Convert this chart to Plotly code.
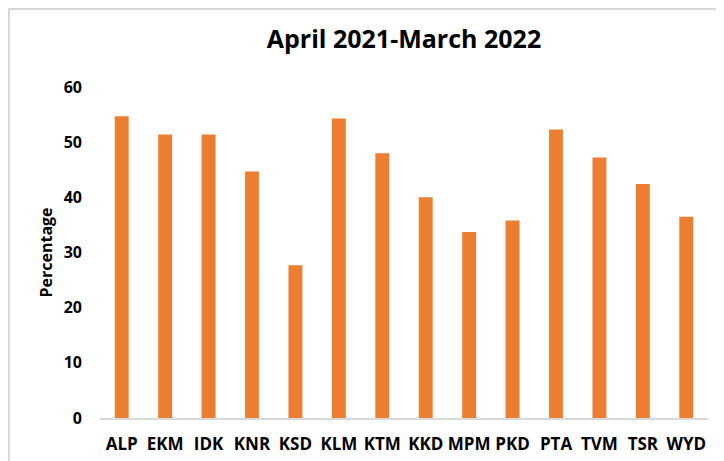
import plotly.graph_objects as go

districts = ['ALP', 'EKM', 'IDK', 'KNR', 'KSD', 'KLM', 'KTM', 'KKD', 'MPM', 'PKD', 'PTA', 'TVM', 'TSR', 'WYD']
percentage = [54.7, 51.4, 51.4, 44.7, 27.7, 54.3, 48.0, 40.0, 33.7, 35.8, 52.3, 47.2, 42.4, 36.5]
y_ticks = [0, 10, 20, 30, 40, 50, 60]

font_family = 'Open Sans, sans-serif'

# page has 8px body margin, figure sits at (8, 8) in the window
W, H = 724, 453
L, R, T, B = 92, 24, 79, 43
pw, ph = W - L - R, H - T - B

fig = go.Figure()
fig.add_trace(go.Bar(
    x=districts,
    y=percentage,
    marker=dict(color='#ED7D31', line=dict(width=0)),
    showlegend=False
))

fig.update_layout(
    width=W,
    height=H,
    margin=dict(l=L, r=R, t=T, b=B, autoexpand=False),
    plot_bgcolor='white',
    paper_bgcolor='white',
    bargap=0.68,
    title=dict(
        text='<b>April 2021-March 2022</b>',
        x=0.5, xref='paper', xanchor='center',
        y=1 - 31 / H, yanchor='middle',
        font=dict(family=font_family, size=25, color='black')
    ),
    xaxis=dict(
        automargin=False,
        showgrid=False,
        zeroline=False,
        showline=True,
        linecolor='#d9d9d9',
        linewidth=1.5,
        ticks='',
        tickfont=dict(family=font_family, size=17, color='black', weight='bold'),
        ticklabelstandoff=10
    ),
    yaxis=dict(
        automargin=False,
        range=[0, 60],
        tickvals=y_ticks,
        showgrid=False,
        zeroline=False,
        showline=False,
        ticks='',
        tickfont=dict(family=font_family, size=16, color='black', weight='bold'),
        ticklabelstandoff=17,
        title=dict(
            text='<b>Percentage</b>',
            font=dict(family=font_family, size=16, color='black'),
            standoff=7
        )
    ),
    # light grey chart border like the Excel chart area
    shapes=[dict(
        type='rect', xref='paper', yref='paper',
        x0=(1 - L) / pw, x1=1.2,
        y0=-0.5, y1=(ph + T - 1) / ph,
        line=dict(color='#d9d9d9', width=2),
        fillcolor='rgba(0,0,0,0)',
        layer='below'
    )]
)

fig.write_html('out.html')
